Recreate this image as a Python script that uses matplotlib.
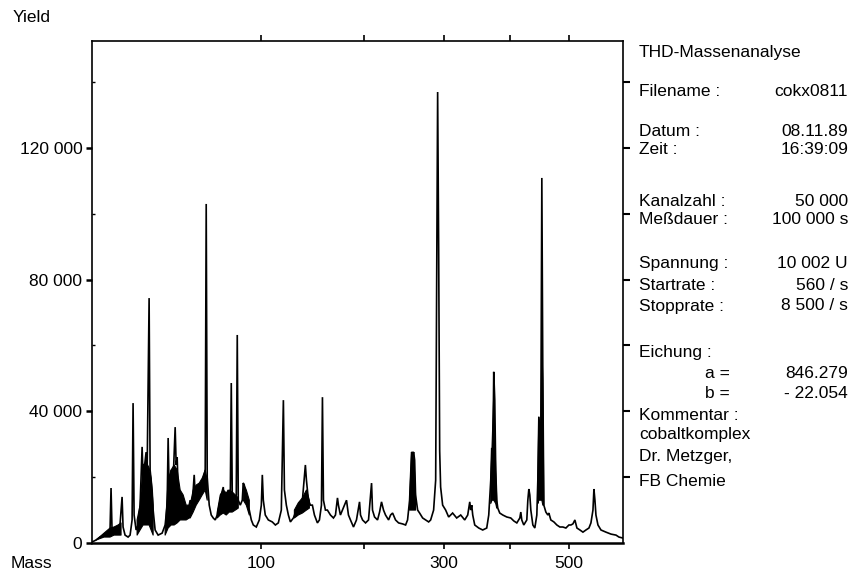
import numpy as np
import matplotlib
matplotlib.use("Agg")
import matplotlib.pyplot as plt

plt.rcParams['font.family'] = ['Liberation Sans', 'DejaVu Sans']

# Spectrum trace (mass, yield)
mass = [10.25, 11.31, 12.42, 13.58, 14.79, 15.41, 15.73, 16.05, 16.70, 17.70,
        18.39, 18.73, 19.44, 19.79, 20.51, 21.62, 22.38, 23.15, 23.53, 23.93,
        24.72, 25.53, 26.34, 27.18, 27.60, 28.02, 28.88, 29.31, 30.19, 30.63,
        31.08, 31.53, 31.99, 32.90, 34.30, 36.21, 37.68, 38.67, 39.17, 39.68,
        40.70, 41.73, 42.78, 43.30, 43.84, 44.37, 45.45, 46.54, 47.64, 48.76,
        49.89, 51.03, 52.19, 53.36, 53.95, 55.14, 56.34, 57.55, 58.78, 60.01,
        60.64, 61.27, 62.54, 63.82, 65.11, 66.42, 67.73, 69.06, 70.41, 71.77,
        72.44, 73.81, 75.20, 76.61, 77.32, 78.02, 79.45, 80.89, 81.61, 82.34,
        83.81, 85.29, 86.03, 86.79, 87.54, 89.04, 90.58, 92.12, 93.66, 96.01,
        98.38, 100.0, 100.8, 101.6, 103.2, 105.7, 109.0, 111.6, 114.1, 116.7,
        118.5, 119.4, 121.1, 122.9, 124.7, 127.4, 130.1, 132.9, 135.7, 138.5,
        139.5, 141.4, 143.3, 145.2, 147.2, 150.1, 152.1, 154.1, 155.1, 156.1,
        158.1, 160.1, 163.2, 166.3, 168.4, 170.5, 171.5, 173.6, 175.8, 177.9,
        180.1, 182.2, 184.4, 187.7, 191.0, 194.4, 195.5, 197.8, 201.2, 204.6,
        208.1, 209.2, 211.6, 215.1, 217.5, 219.8, 222.2, 224.6, 228.3, 230.7,
        233.2, 236.8, 240.6, 245.6, 249.4, 251.9, 254.5, 257.1, 258.4, 259.7,
        261.0, 262.2, 264.9, 267.5, 271.5, 275.5, 279.5, 282.2, 286.2, 289.0,
        290.3, 291.7, 293.1, 294.5, 295.8, 298.6, 302.8, 307.0, 312.6, 318.4,
        324.2, 330.0, 334.4, 337.4, 338.8, 340.3, 341.8, 344.8, 350.8, 356.8,
        362.9, 366.0, 369.1, 370.6, 372.2, 373.7, 375.3, 376.8, 378.4, 380.0,
        383.1, 387.9, 394.2, 400.6, 405.5, 410.4, 415.3, 416.9, 418.5, 421.8,
        426.8, 428.5, 430.2, 431.8, 433.5, 436.9, 440.2, 443.6, 445.3, 447.0,
        448.7, 450.4, 452.1, 453.8, 455.5, 459.0, 462.4, 464.2, 467.6, 472.9,
        478.1, 483.4, 488.7, 494.1, 499.5, 503.1, 506.7, 510.3, 514.0, 519.5,
        525.0, 530.5, 536.1, 539.8, 543.6, 545.4, 547.3, 549.2, 553.0, 558.7,
        568.2, 577.9, 587.6, 593.4, 601.3]
counts = [300, 900, 1800, 2400, 3300, 3950, 16700, 3950, 4550, 4860,
          4250, 5770, 14000, 4860, 2400, 1800, 2400, 7000, 42500, 8500,
          3950, 5470, 11500, 29200, 19100, 22200, 27600, 20700, 74400, 22200,
          19100, 16100, 10000, 3950, 2400, 3000, 5470, 11500, 31900, 16100,
          22200, 19100, 35200, 23700, 26100, 16100, 14000, 14000, 11500, 8500,
          10000, 13000, 11500, 20700, 14600, 14600, 16100, 17600, 19100, 22200,
          103000, 20000, 11500, 8500, 7600, 7000, 8500, 11500, 14600, 17000,
          13000, 14600, 16100, 13000, 48600, 14600, 11500, 14600, 63200, 13000,
          11500, 13000, 18200, 17600, 14600, 11500, 10000, 7000, 5470, 4860,
          7000, 11500, 20700, 13000, 8500, 7000, 6400, 5470, 6100, 10000,
          43400, 16100, 11500, 8500, 6400, 7600, 10000, 11500, 13000, 23700,
          19100, 13000, 11500, 11500, 8500, 6100, 7000, 11500, 44300, 13000,
          10000, 10000, 8500, 7600, 8500, 13700, 11500, 8500, 10000, 11500,
          13000, 8500, 7000, 4860, 7000, 12500, 8500, 7000, 6100, 7000,
          18200, 10000, 7900, 7000, 9400, 12500, 10000, 8500, 7000, 8500,
          9100, 7000, 6100, 5800, 5470, 7000, 13000, 27600, 26700, 27600,
          25200, 14600, 10000, 9100, 7600, 7000, 6400, 7000, 10000, 19100,
          73800, 137000, 89000, 28000, 17000, 11500, 10000, 7900, 9100, 7600,
          8500, 7000, 8500, 12500, 10000, 11500, 8500, 5470, 4550, 3950,
          4550, 8500, 19100, 28900, 22200, 52000, 43400, 22200, 13000, 10600,
          9100, 8500, 7900, 7600, 6700, 6100, 7600, 9400, 7000, 5470,
          7000, 13000, 16400, 14600, 10000, 5470, 4550, 8500, 19100, 38300,
          25200, 34300, 110900, 49500, 11500, 9400, 8500, 9100, 7000, 6400,
          5470, 4860, 4860, 4550, 5470, 5470, 5800, 7000, 4550, 3950,
          3300, 3950, 4550, 6100, 10000, 16400, 13000, 8500, 5470, 3950,
          3300, 2700, 2400, 1800, 1500]

# Densely packed line regions, drawn as filled bands (None separates bands)
band_mass = [11.31, 13.58, 15.41, 16.70, 18.04, 19.08, None,
             25.12, 26.34, 27.60, 28.88, 30.19, 31.08, 31.99, None,
             37.68, 39.17, 40.70, 42.25, 43.84, 45.45, 47.09, 48.76, 50.46, 51.03,
             52.77, 54.54, 56.34, 58.16, 60.01, 61.27, None,
             67.73, 69.73, 71.77, 73.81, 75.90, 78.02, 80.20, 82.34, None,
             86.03, 88.30, 90.58, None,
             128.3, 131.9, 135.7, 139.5, 142.3, None,
             254.5, 257.1, 259.7, 262.2, None,
             369.1, 371.0, 373.7, 376.8, 378.4, None,
             445.3, 447.0, 450.4, 452.1, 453.8, 455.5]
band_low = [900, 1800, 1800, 2400, 2400, 2400, None,
            2400, 3950, 5470, 5470, 5470, 3950, 2400, None,
            2400, 4550, 5470, 5470, 6100, 7000, 7000, 7000, 7600, 7600,
            9400, 11500, 13000, 14600, 16100, 13000, None,
            7600, 8500, 9100, 8500, 9400, 9400, 10000, 10600, None,
            13000, 11500, 8500, None,
            7600, 8500, 9100, 10000, 10600, None,
            10000, 10000, 10000, 10000, None,
            12000, 13000, 13000, 12000, 10600, None,
            12000, 13000, 13000, 13000, 11500, 11500]
band_high = [900, 3000, 4550, 4860, 5470, 6100, None,
             7000, 11500, 23700, 24600, 22800, 19700, 11500, None,
             4000, 19100, 22200, 23700, 22200, 16100, 14600, 11500, 11500, 11500,
             16100, 17600, 18200, 19700, 22200, 19100, None,
             9400, 14600, 16100, 15200, 16100, 15500, 14600, 13700, None,
             18200, 16100, 13000, None,
             10000, 12200, 13700, 16100, 13000, None,
             13000, 27600, 27600, 14600, None,
             19100, 28900, 45000, 22200, 13000, None,
             19100, 38300, 34300, 60000, 49500, 11500]

x_ticks = [100, 200, 300, 400, 500]
x_labels = ['100', '', '300', '', '500']
y_ticks = [0, 40000, 80000, 120000]
y_labels = ['0', '40 000', '80 000', '120 000']
y_minor = [20000, 60000, 100000, 140000]
right_ticks = [20000, 40000, 60000, 80000, 100000, 120000, 140000]

info_left = ['Filename :', 'Datum :', 'Zeit :', 'Kanalzahl :', 'Meßdauer :',
             'Spannung :', 'Startrate :', 'Stopprate :']
info_right = ['cokx0811', '08.11.89', '16:39:09', '50 000', '100 000 s',
              '10 002 U', '560 / s', '8 500 / s']
info_y = [91, 131, 150, 201, 220, 264, 285, 306]
comment = ['Kommentar :', 'cobaltkomplex', 'Dr. Metzger,', 'FB Chemie']
comment_y = [416, 435, 456, 481]

W, H = 849, 575
fig = plt.figure(figsize=(W / 100, H / 100), dpi=100)
ax = fig.add_axes([92 / W, 1 - 543 / H, 531 / W, 502 / H])
ax.set_xscale('function', functions=(np.sqrt, np.square))

ax.plot(mass, counts, color='black', lw=1.2, solid_joinstyle='miter')
bm = np.array([np.nan if v is None else v for v in band_mass], dtype=float)
bl = np.array([np.nan if v is None else v for v in band_low], dtype=float)
bh = np.array([np.nan if v is None else v for v in band_high], dtype=float)
ax.fill_between(bm, bl, bh, color='black', lw=0.8)

ax.set_xlim(10.25, 601.3)
ax.set_ylim(0, 152500)
ax.set_xticks(x_ticks, labels=x_labels)
ax.set_yticks(y_ticks, labels=y_labels)
ax.set_yticks(y_minor, minor=True)
ax.xaxis.set_minor_locator(matplotlib.ticker.NullLocator())

fs = 12.5
ax.tick_params(axis='x', which='major', direction='out', length=4, width=1.2,
               top=True, labelsize=fs, pad=5)
ax.tick_params(axis='y', which='major', direction='out', length=4, width=1.8,
               labelsize=fs, pad=3)
ax.tick_params(axis='y', which='minor', direction='in', length=2, width=1)
for s in ax.spines.values():
    s.set_linewidth(1.2)
ax.spines['bottom'].set_linewidth(1.8)

twin = ax.twinx()
twin.set_ylim(ax.get_ylim())
twin.set_yticks(right_ticks)
twin.tick_params(axis='y', direction='out', length=5, width=1.5, labelright=False)
for s in twin.spines.values():
    s.set_visible(False)

fig.text(13 / W, 1 - 17 / H, 'Yield', fontsize=fs, va='center', ha='left')
fig.text(11 / W, 1 - 563 / H, 'Mass', fontsize=fs, va='center', ha='left')

lx = 639 / W
rx = 848 / W
fig.text(lx, 1 - 52 / H, 'THD-Massenanalyse', fontsize=fs, va='center')
for lab, val, y in zip(info_left, info_right, info_y):
    fig.text(lx, 1 - y / H, lab, fontsize=fs, va='center')
    fig.text(rx, 1 - y / H, val, fontsize=fs, va='center', ha='right')
fig.text(lx, 1 - 353 / H, 'Eichung :', fontsize=fs, va='center')
fig.text(730 / W, 1 - 374 / H, 'a =', fontsize=fs, va='center', ha='right')
fig.text(rx, 1 - 374 / H, '846.279', fontsize=fs, va='center', ha='right')
fig.text(730 / W, 1 - 394 / H, 'b =', fontsize=fs, va='center', ha='right')
fig.text(rx, 1 - 394 / H, '- 22.054', fontsize=fs, va='center', ha='right')
for line, y in zip(comment, comment_y):
    fig.text(lx, 1 - y / H, line, fontsize=fs, va='center')

fig.savefig('out.png', dpi=100)
